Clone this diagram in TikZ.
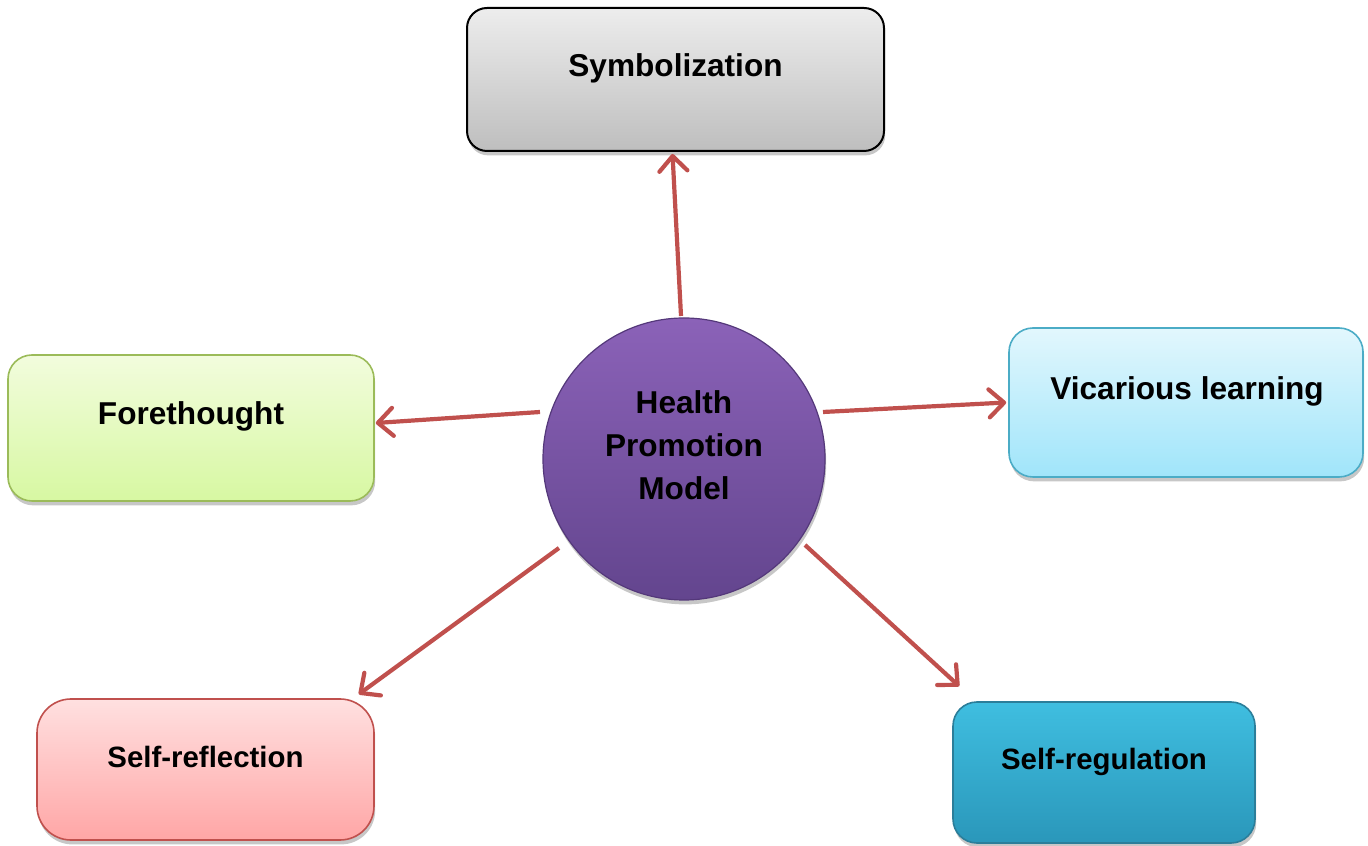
\documentclass[tikz,border=0pt]{standalone}
\usepackage{fontspec}
\setmainfont{Liberation Sans}
\usetikzlibrary{arrows.meta,shadows,calc}
\definecolor{arrowred}{HTML}{C0504D}
\definecolor{grayT}{HTML}{EDEDED}
\definecolor{grayB}{HTML}{BEBEBE}
\definecolor{greenT}{HTML}{F2FCDD}
\definecolor{greenB}{HTML}{D7F8A2}
\definecolor{greenD}{HTML}{9BBB59}
\definecolor{blueT}{HTML}{E2F7FD}
\definecolor{blueB}{HTML}{A0E5FA}
\definecolor{blueD}{HTML}{4BACC6}
\definecolor{pinkT}{HTML}{FFE0E0}
\definecolor{pinkB}{HTML}{FFA6A6}
\definecolor{tealT}{HTML}{3FBEE0}
\definecolor{tealB}{HTML}{2A97BA}
\definecolor{tealD}{HTML}{2B7E9A}
\definecolor{purpT}{HTML}{8B62B8}
\definecolor{purpB}{HTML}{63458E}
\definecolor{purpD}{HTML}{54387A}
\tikzset{
  boxbase/.style={rectangle, rounded corners=12pt, inner sep=0pt, line width=0.8pt,
    drop shadow={shadow xshift=0.6pt, shadow yshift=-2.2pt, opacity=0.22, fill=black}},
  lbl/.style={font=\bfseries\fontsize{15.8}{21.5}\selectfont, text=black, align=center, inner sep=0pt},
  lblsmall/.style={font=\bfseries\fontsize{14.7}{18}\selectfont, text=black, align=center, inner sep=0pt},
  conn/.style={draw=arrowred, line width=2.1pt, -{Straight Barb[round,length=7.5pt,width=14pt]}}
}
\begin{document}
\begin{tikzpicture}[x=0.5pt,y=0.5pt]
\useasboundingbox (0,0) rectangle (1368,845);
% boxes
\node[boxbase, draw=black, line width=1pt, rounded corners=10pt, top color=grayT, bottom color=grayB,
  minimum width=208.5pt, minimum height=71.5pt] (sym) at (675.5,765.5) {};
\node[boxbase, draw=greenD, top color=greenT, bottom color=greenB,
  minimum width=183pt, minimum height=73pt] (fore) at (191,417) {};
\node[boxbase, draw=blueD, top color=blueT, bottom color=blueB,
  minimum width=177pt, minimum height=74.5pt] (vic) at (1186,442.5) {};
\node[boxbase, draw=arrowred, rounded corners=17pt, top color=pinkT, bottom color=pinkB,
  minimum width=168.5pt, minimum height=70.5pt] (sref) at (205.5,75.5) {};
\node[boxbase, draw=tealD, top color=tealT, bottom color=tealB,
  minimum width=151pt, minimum height=70.5pt] (sreg) at (1104,72.5) {};
\node[circle, draw=purpD, line width=0.6pt, top color=purpT, bottom color=purpB,
  minimum size=141pt, inner sep=0pt,
  drop shadow={shadow xshift=0.6pt, shadow yshift=-2.2pt, opacity=0.22, fill=black}] (hpm) at (684,386) {};
% labels
\node[lbl] (symt) at ($(sym.north)+(0,-61)$) {Symbolization};
\node[lbl] (foret) at ($(fore.north)+(0,-62)$) {Forethought};
\node[lbl] (vict) at ($(vic.north)+(1,-64)$) {Vicarious learning};
\node[lblsmall] (sreft) at ($(sref.north)+(0,-59)$) {Self-reflection};
\node[lblsmall] (sregt) at ($(sreg.north)+(0,-61)$) {Self-regulation};
\node[lbl] (hpmt) at ($(hpm.center)+(0,14)$) {Health\\Promotion\\Model};
% connectors
\draw[conn] ($(hpm.center)+(-3,143)$) -- ($(sym.south)+(-3,-2)$);
\draw[conn] ($(hpm.center)+(-144,47)$) -- ($(fore.east)+(1,5)$);
\draw[conn] ($(hpm.center)+(139,47)$) -- ($(vic.west)+(-2,0)$);
\draw[conn] ($(hpm.center)+(-125,-89)$) -- ($(sref.north east)+(-16,4)$);
\draw[conn] ($(hpm.center)+(121,-86)$) -- ($(sreg.north west)+(7,15)$);
\end{tikzpicture}
\end{document}
